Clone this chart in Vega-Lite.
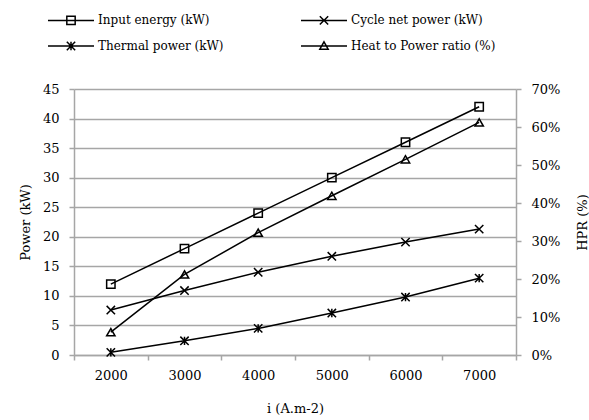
{
  "$schema": "https://vega.github.io/schema/vega-lite/v6.json",
  "width": 442,
  "height": 266,
  "autosize": {"type": "none"},
  "padding": {"left": 74, "top": 89, "right": 73, "bottom": 65},
  "background": "white",
  "config": {
    "font": "DejaVu Serif",
    "view": {"stroke": null},
    "axis": {
      "labelFont": "DejaVu Serif",
      "labelFontSize": 13,
      "labelColor": "#000000",
      "titleFont": "DejaVu Serif",
      "titleFontSize": 13,
      "titleFontWeight": "normal",
      "titleColor": "#000000",
      "domainColor": "#a6a6a6",
      "tickColor": "#a6a6a6",
      "gridColor": "#a6a6a6",
      "domainWidth": 1.5,
      "tickWidth": 1.5,
      "gridWidth": 1.5,
      "tickSize": 5
    },
    "legend": {
      "labelFont": "DejaVu Serif",
      "labelFontSize": 12,
      "labelColor": "#000000"
    }
  },
  "datasets": {
    "power": [
      {"i": "2000", "series": "Input energy (kW)", "value": 12},
      {"i": "3000", "series": "Input energy (kW)", "value": 18},
      {"i": "4000", "series": "Input energy (kW)", "value": 24},
      {"i": "5000", "series": "Input energy (kW)", "value": 30},
      {"i": "6000", "series": "Input energy (kW)", "value": 36},
      {"i": "7000", "series": "Input energy (kW)", "value": 42},
      {"i": "2000", "series": "Cycle net power (kW)", "value": 7.6},
      {"i": "3000", "series": "Cycle net power (kW)", "value": 10.9},
      {"i": "4000", "series": "Cycle net power (kW)", "value": 14.0},
      {"i": "5000", "series": "Cycle net power (kW)", "value": 16.7},
      {"i": "6000", "series": "Cycle net power (kW)", "value": 19.1},
      {"i": "7000", "series": "Cycle net power (kW)", "value": 21.3},
      {"i": "2000", "series": "Thermal power (kW)", "value": 0.45},
      {"i": "3000", "series": "Thermal power (kW)", "value": 2.4},
      {"i": "4000", "series": "Thermal power (kW)", "value": 4.5},
      {"i": "5000", "series": "Thermal power (kW)", "value": 7.1},
      {"i": "6000", "series": "Thermal power (kW)", "value": 9.8},
      {"i": "7000", "series": "Thermal power (kW)", "value": 13.0}
    ],
    "hpr": [
      {"i": "2000", "series": "Heat to Power ratio (%)", "value": 0.06},
      {"i": "3000", "series": "Heat to Power ratio (%)", "value": 0.212},
      {"i": "4000", "series": "Heat to Power ratio (%)", "value": 0.322},
      {"i": "5000", "series": "Heat to Power ratio (%)", "value": 0.419},
      {"i": "6000", "series": "Heat to Power ratio (%)", "value": 0.515},
      {"i": "7000", "series": "Heat to Power ratio (%)", "value": 0.612}
    ],
    "legend": [
      {"series": "Input energy (kW)"},
      {"series": "Cycle net power (kW)"},
      {"series": "Thermal power (kW)"},
      {"series": "Heat to Power ratio (%)"}
    ]
  },
  "layer": [
    {
      "data": {"name": "power"},
      "encoding": {
        "x": {
          "field": "i", "type": "ordinal", "bandPosition": 0.5,
          "scale": {"type": "band", "paddingInner": 0, "paddingOuter": 0},
          "axis": {"title": "i (A.m-2)", "tickBand": "extent", "labelAngle": 0, "labelPadding": 9, "titleX": 221, "titleY": 53, "titleAlign": "center", "titleBaseline": "middle", "grid": false}
        },
        "y": {
          "field": "value", "type": "quantitative",
          "scale": {"domain": [0, 45], "nice": false, "zero": true},
          "axis": {"title": "Power (kW)", "orient": "left", "values": [0, 5, 10, 15, 20, 25, 30, 35, 40, 45], "grid": true, "labelPadding": 10, "titleX": -49, "titleY": 133, "titleAngle": 270, "titleAlign": "center", "titleBaseline": "middle"}
        }
      },
      "layer": [
        {
          "mark": {"type": "line", "color": "black", "strokeWidth": 1.5},
          "encoding": {"detail": {"field": "series"}}
        },
        {
          "mark": {"type": "point", "filled": false, "color": "black", "strokeWidth": 1.5, "size": 70, "opacity": 1},
          "encoding": {
            "shape": {
              "field": "series",
              "legend": null,
              "scale": {
                "domain": ["Input energy (kW)", "Cycle net power (kW)", "Thermal power (kW)"],
                "range": ["square", "M-1,-1L1,1M-1,1L1,-1", "M-1,-1L1,1M-1,1L1,-1M0,-1L0,1"]
              }
            }
          }
        }
      ]
    },
    {
      "data": {"name": "hpr"},
      "encoding": {
        "x": {"field": "i", "type": "ordinal", "bandPosition": 0.5},
        "y": {
          "field": "value", "type": "quantitative",
          "scale": {"domain": [0, 0.7], "nice": false},
          "axis": {"title": "HPR (%)", "orient": "right", "format": ".0%", "values": [0, 0.1, 0.2, 0.3, 0.4, 0.5, 0.6, 0.7], "grid": false, "labelPadding": 10, "titleX": 66, "titleY": 133, "titleAngle": 270, "titleAlign": "center", "titleBaseline": "middle"}
        }
      },
      "layer": [
        {
          "mark": {"type": "line", "color": "black", "strokeWidth": 1.5},
          "encoding": {}
        },
        {
          "mark": {"type": "point", "filled": false, "color": "black", "strokeWidth": 1.5, "size": 70, "opacity": 1, "shape": "triangle-up"},
          "encoding": {}
        }
      ]
    },
    {
      "data": {"name": "legend"},
      "mark": {"type": "point", "filled": false, "color": "black", "strokeWidth": 1.5, "size": 0},
      "encoding": {
        "shape": {
          "field": "series",
          "scale": {
            "domain": ["Input energy (kW)", "Cycle net power (kW)", "Thermal power (kW)", "Heat to Power ratio (%)"],
            "range": ["M-5.5,0H5.5M-1,-1H1V1H-1Z", "M-5.5,0H5.5M-1,-1L1,1M-1,1L1,-1", "M-5.5,0H5.5M-1,-1L1,1M-1,1L1,-1M0,-1L0,1", "M-5.5,0H5.5M0,-1L1,0.75L-1,0.75Z"]
          },
          "legend": {
            "title": null,
            "orient": "none",
            "legendX": -29,
            "legendY": -75,
            "columns": 2,
            "direction": "horizontal",
            "gridAlign": "all",
            "columnPadding": 54,
            "rowPadding": 10,
            "symbolSize": 70,
            "symbolOpacity": 1,
            "symbolStrokeWidth": 1.5,
            "symbolStrokeColor": "black",
            "symbolFillColor": "transparent",
            "symbolOffset": 20,
            "labelOffset": 21
          }
        }
      }
    }
  ],
  "resolve": {"scale": {"y": "independent", "shape": "independent"}}
}
